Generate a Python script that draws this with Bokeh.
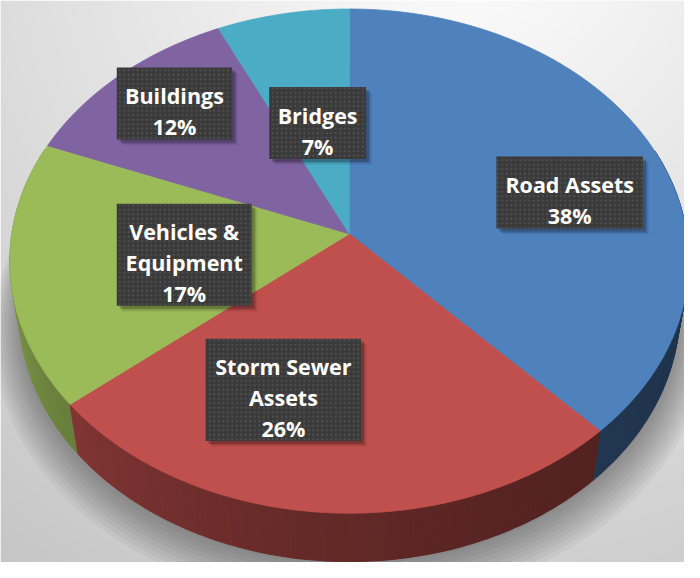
import numpy as np
from bokeh.plotting import figure
from bokeh.models import Range1d
from bokeh.embed import file_html
from bokeh.resources import INLINE
from bokeh.core.properties import value

# ---- data ----
categories = ["Road Assets", "Storm Sewer\nAssets", "Vehicles &\nEquipment", "Buildings", "Bridges"]
shares = [38, 26, 17, 12, 7]
top_colors = ["#4f81bd", "#c0504d", "#9bbb59", "#8064a2", "#4bacc6"]

# ---- layout (reference pixel coordinates, y downward) ----
label_centers = [(582.5, 197.5), (289.5, 400.5), (188.0, 261.5), (178.0, 106.0), (324.5, 126.0)]
label_widths = [150, 159, 138, 118, 99]

W, H = 700, 578          # scene size
FW, FH = 684, 562        # figure size (fits inside 8px page margin)
CX, CY = 357.0, 240.0
F, DIST = 2141.0, 6.2
SA, CA = 0.742, 0.670
THICK = 0.232
FONT_PX = 22 * FW / W
LINE_STEP = 32.0


def project(theta_deg, r=1.0, yv=0.0):
    t = np.radians(theta_deg)
    X = r * np.sin(t)
    Z = -r * np.cos(t)
    up = yv * CA - Z * SA
    depth = DIST - Z * CA - yv * SA
    sx = CX + F * X / depth
    sy = CY - F * up / depth
    return sx, H - sy  # bokeh y goes up


def hex_to_rgb(h):
    h = h.lstrip("#")
    return [int(h[i:i + 2], 16) for i in (0, 2, 4)]


def shade(h, f):
    r, g, b = hex_to_rgb(h)
    return "#%02x%02x%02x" % (int(r * f), int(g * f), int(b * f))


def side_factor(theta):
    th = theta % 360
    if th < 90:
        t = 0.0
    elif th > 270:
        t = 1.0
    else:
        t = (th - 90) / 180.0
    return 0.40 + 0.45 * t * t


p = figure(width=FW, height=FH,
           x_range=Range1d(0, W), y_range=Range1d(0, H),
           output_backend="svg", toolbar_location=None, min_border=0)
p.axis.visible = False
p.grid.visible = False
p.outline_line_color = None

# ---- background gradient ----
gw, gh = W, H
xs = np.arange(gw) + 0.5
ys = H - (np.arange(gh) + 0.5)  # row 0 at bottom
XX, YY = np.meshgrid(xs, ys)
dist = np.sqrt((XX - 480.0) ** 2 + (YY + 80.0) ** 2)
lum = np.clip(255.0 - 48.0 * dist / 680.0, 0, 255)
img = np.empty((gh, gw), dtype=np.uint32)
view = img.view(dtype=np.uint8).reshape((gh, gw, 4))
view[:, :, 0] = lum.astype(np.uint8)
view[:, :, 1] = lum.astype(np.uint8)
view[:, :, 2] = lum.astype(np.uint8)
view[:, :, 3] = 255
p.image_rgba(image=[img], x=0, y=0, dw=W, dh=H)

# ---- soft shadow under the pie ----
ang = np.linspace(0, 360, 361)
for k in range(10):
    sx, sy = project(ang, r=1.0 + 0.009 * k, yv=-THICK)
    p.patch(sx + 1, sy - (3 + 1.8 * k), fill_color="black", fill_alpha=0.038, line_alpha=0)

# ---- slice angles ----
total = float(sum(shares))
bounds = np.concatenate([[0.0], np.cumsum(shares) / total * 360.0])

# ---- side walls ----
quads = []
for i, col in enumerate(top_colors):
    a0, a1 = bounds[i], bounds[i + 1]
    n = max(2, int(np.ceil((a1 - a0) / 1.0)))
    edges = np.linspace(a0, a1, n + 1)
    for j in range(n):
        ta, tb = edges[j], edges[j + 1]
        mid = 0.5 * (ta + tb)
        if np.cos(np.radians(mid)) > 0.35:
            continue
        xa, ya = project(ta)
        xb, yb = project(tb)
        xa2, ya2 = project(ta, yv=-THICK)
        xb2, yb2 = project(tb, yv=-THICK)
        z = -np.cos(np.radians(mid))
        quads.append((z, [xa, xb, xb2, xa2], [ya, yb, yb2, ya2], shade(col, side_factor(mid))))
quads.sort(key=lambda q: q[0])
p.patches([q[1] for q in quads], [q[2] for q in quads],
          fill_color=[q[3] for q in quads], line_color=[q[3] for q in quads], line_width=1.2)

# ---- top faces ----
cx0, cy0 = project(0, r=0.0)
txs, tys = [], []
for i in range(len(shares)):
    arc = np.linspace(bounds[i], bounds[i + 1], max(3, int((bounds[i + 1] - bounds[i]) * 2)))
    ax, ay = project(arc)
    txs.append(np.concatenate([[cx0], ax]))
    tys.append(np.concatenate([[cy0], ay]))
p.patches(txs, tys, fill_color=top_colors, line_color=top_colors, line_width=0.8)

# ---- data labels ----
texts = ["%s\n%d%%" % (c, s) for c, s in zip(categories, shares)]
nlines = [t.count("\n") + 1 for t in texts]
lx = [c[0] for c in label_centers]
ly = [H - c[1] for c in label_centers]
lh = [31 * n + 12 for n in nlines]
left = [x - w / 2 for x, w in zip(lx, label_widths)]
right = [x + w / 2 for x, w in zip(lx, label_widths)]
top = [y + h / 2 for y, h in zip(ly, lh)]
bottom = [y - h / 2 for y, h in zip(ly, lh)]

for off, a in [(6, 0.07), (4.5, 0.11), (3, 0.2)]:
    p.quad(left=[l + off for l in left], right=[r + off for r in right],
           top=[t - off for t in top], bottom=[b - off for b in bottom],
           fill_color="black", fill_alpha=a, line_alpha=0)
p.quad(left=left, right=right, top=top, bottom=bottom,
       fill_color="#3a3a3a", line_alpha=0,
       hatch_pattern="dot", hatch_color="#4f4f4f", hatch_scale=4.5, hatch_weight=0.6)

tx, ty, tt = [], [], []
for (cx, cy), t in zip(label_centers, texts):
    lines = t.split("\n")
    n = len(lines)
    for i, line in enumerate(lines):
        base = cy + (i - (n - 1) / 2.0) * LINE_STEP + 8.0
        tx.append(cx)
        ty.append(H - base)
        tt.append(line)

p.text(tx, ty, text=tt, text_font=value("Open Sans"), text_font_style="bold",
       text_font_size="%.1fpx" % FONT_PX, text_color="white", text_align="center",
       text_baseline="alphabetic")

open("out.html", "w").write(file_html(p, INLINE))
